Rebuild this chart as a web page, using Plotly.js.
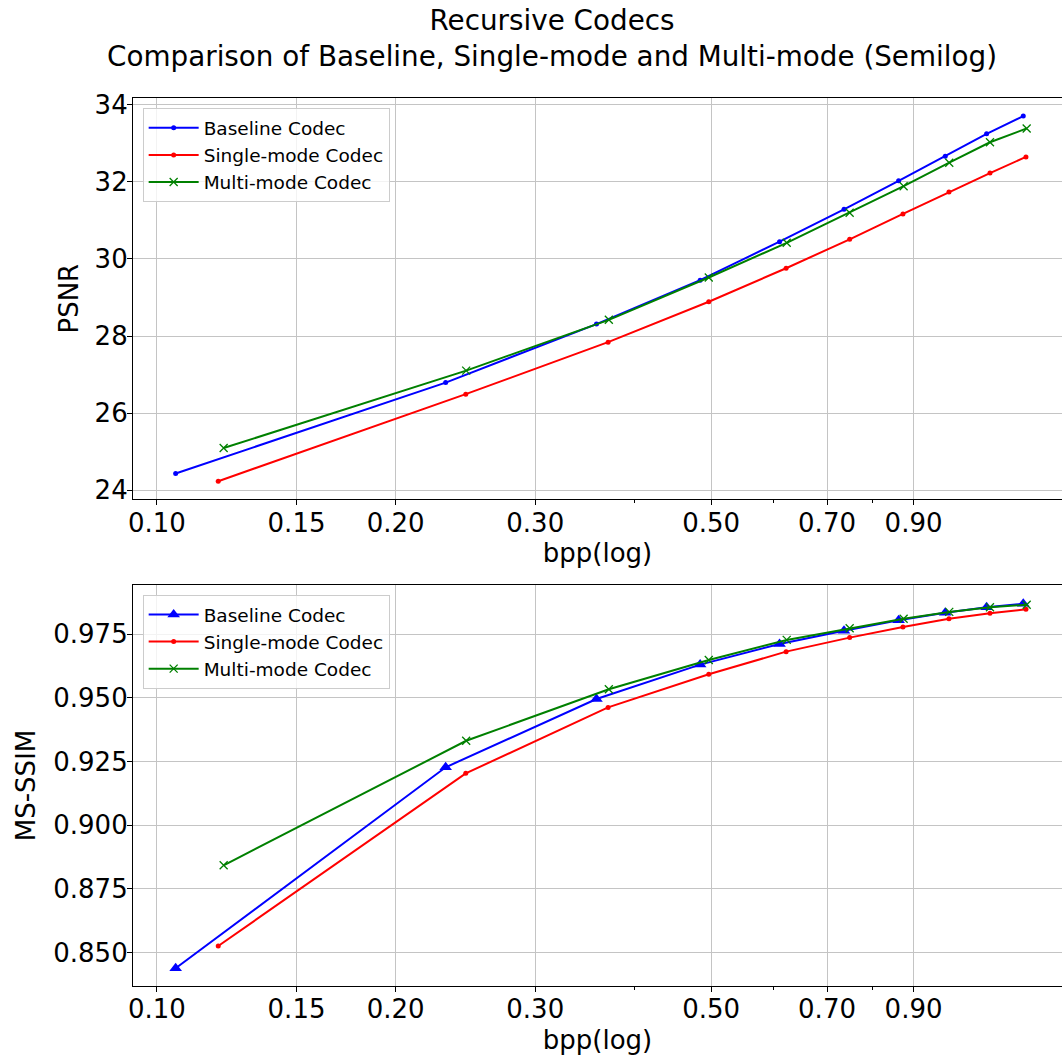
<!DOCTYPE html>
<html>
<head>
<meta charset="utf-8">
<script src="https://cdn.plot.ly/plotly-3.0.1.min.js"></script>
<style>html,body{margin:0;padding:0;background:#fff;}#chart{width:1062px;height:1057px;}</style>
</head>
<body>
<div id="chart"></div>
<script>
// ---- data ----
const seriesNames = ["Baseline Codec", "Single-mode Codec", "Multi-mode Codec"];

const baselineBpp = [0.1056, 0.2313, 0.3584, 0.4843, 0.6099, 0.7354, 0.8618, 0.9867, 1.1127, 1.2377];
const singleBpp   = [0.1195, 0.2452, 0.3707, 0.4966, 0.6216, 0.7476, 0.8727, 0.9974, 1.1236, 1.2474];
const multiBpp    = [0.1214, 0.2455, 0.3715, 0.4966, 0.6227, 0.7476, 0.8744, 0.9983, 1.1236, 1.2500];

const baselinePsnr = [24.43, 26.79, 28.31, 29.45, 30.45, 31.29, 32.03, 32.67, 33.25, 33.71];
const singlePsnr   = [24.23, 26.49, 27.84, 28.89, 29.76, 30.51, 31.17, 31.74, 32.23, 32.65];
const multiPsnr    = [25.09, 27.10, 28.42, 29.52, 30.42, 31.20, 31.89, 32.50, 33.03, 33.39];

const baselineSsim = [0.8439, 0.9228, 0.9496, 0.9631, 0.9712, 0.9764, 0.9805, 0.9835, 0.9856, 0.9870];
const singleSsim   = [0.8526, 0.9204, 0.9463, 0.9593, 0.9682, 0.9737, 0.9779, 0.9811, 0.9833, 0.9848];
const multiSsim    = [0.8843, 0.9332, 0.9534, 0.9649, 0.9728, 0.9774, 0.9811, 0.9838, 0.9856, 0.9866];

const xTickVals = [0.10, 0.15, 0.20, 0.30, 0.50, 0.70, 0.90];
const xTickText = ["0.10", "0.15", "0.20", "0.30", "0.50", "0.70", "0.90"];
const xMinorVals = [0.4, 0.6, 0.8];
const psnrTicks = [24, 26, 28, 30, 32, 34];
const ssimTicks = [0.850, 0.875, 0.900, 0.925, 0.950, 0.975];
const ssimTickText = ["0.850", "0.875", "0.900", "0.925", "0.950", "0.975"];

// ---- styling ----
const FONT = "DejaVu Sans, Liberation Sans, sans-serif";
const BLUE = "#0000ff", RED = "#ff0000", GREEN = "#008000";
const LW = 2;

function tr(x, y, name, color, symbol, size, xa, ya, legend) {
  return {
    x: x, y: y, name: name, type: "scatter", mode: "lines+markers",
    xaxis: xa, yaxis: ya, legend: legend,
    line: {color: color, width: LW},
    marker: {color: color, symbol: symbol, size: size,
             line: {color: color, width: symbol.indexOf("x") === 0 ? 1.3 : 0}}
  };
}

const data = [
  tr(baselineBpp, baselinePsnr, seriesNames[0], BLUE, "circle", 5, "x", "y", "legend"),
  tr(singleBpp, singlePsnr, seriesNames[1], RED, "circle", 5, "x", "y", "legend"),
  tr(multiBpp, multiPsnr, seriesNames[2], GREEN, "x-thin", 8, "x", "y", "legend"),
  tr(baselineBpp, baselineSsim, seriesNames[0], BLUE, "triangle-up", 11, "x2", "y2", "legend2"),
  tr(singleBpp, singleSsim, seriesNames[1], RED, "circle", 5, "x2", "y2", "legend2"),
  tr(multiBpp, multiSsim, seriesNames[2], GREEN, "x-thin", 8, "x2", "y2", "legend2")
];

const xRange = [Math.log10(0.0933), Math.log10(1.385)];

function xaxis(anchor) {
  return {
    type: "log", range: xRange, anchor: anchor,
    tickmode: "array", tickvals: xTickVals, ticktext: xTickText,
    ticks: "outside", ticklen: 5, tickwidth: 1, tickcolor: "#000",
    ticklabelstandoff: -5,
    showgrid: true, gridcolor: "#c4c4c4", gridwidth: 1.2,
    showline: true, linecolor: "#000", linewidth: 1.2, mirror: true,
    zeroline: false,
    tickfont: {family: FONT, size: 26, color: "#000"},
    title: {text: "bpp(log)", font: {family: FONT, size: 26, color: "#000"}, standoff: 7},
    minor: {tickmode: "array", tickvals: xMinorVals, ticks: "outside", ticklen: 3, tickwidth: 1, tickcolor: "#000", showgrid: false}
  };
}
function yaxis(anchor, domain, ticks, tickText, range, title, standoff) {
  const a = {
    anchor: anchor, domain: domain, range: range,
    tickmode: "array", tickvals: ticks,
    ticks: "outside", ticklen: 5, tickwidth: 1, tickcolor: "#000",
    ticklabelstandoff: -6,
    showgrid: true, gridcolor: "#c4c4c4", gridwidth: 1.2,
    showline: true, linecolor: "#000", linewidth: 1.2, mirror: true,
    zeroline: false,
    tickfont: {family: FONT, size: 26, color: "#000"},
    title: {text: title, font: {family: FONT, size: 26, color: "#000"}, standoff: standoff}
  };
  if (tickText) a.ticktext = tickText;
  return a;
}

const legendStyle = {
  xref: "paper", yref: "paper", xanchor: "left", yanchor: "top",
  bgcolor: "rgba(255,255,255,0.8)", bordercolor: "#cccccc", borderwidth: 1,
  itemwidth: 50,
  font: {family: FONT, size: 18.5, color: "#000"}
};

const layout = {
  width: 1062, height: 1057,
  paper_bgcolor: "#fff", plot_bgcolor: "#fff",
  margin: {l: 133, r: 0, t: 98, b: 71},
  showlegend: true,
  title: {
    text: "Recursive Codecs<br>Comparison of Baseline, Single-mode and Multi-mode (Semilog)",
    font: {family: FONT, size: 27.8, color: "#000"},
    x: 0.5198, xref: "container", xanchor: "center",
    y: 0.972, yref: "container", yanchor: "middle"
  },
  xaxis: xaxis("y"),
  yaxis: yaxis("x", [0.5481, 1], psnrTicks, null, [23.76, 34.18], "PSNR", 8),
  xaxis2: xaxis("y2"),
  yaxis2: yaxis("x2", [0, 0.4516], ssimTicks, ssimTickText, [0.83691, 0.99437], "MS-SSIM", 10),
  legend: Object.assign({x: 0.0104, y: 0.9884}, legendStyle),
  legend2: Object.assign({x: 0.0104, y: 0.4403}, legendStyle)
};

Plotly.newPlot("chart", data, layout, {displayModeBar: false, responsive: false});
</script>
</body>
</html>
